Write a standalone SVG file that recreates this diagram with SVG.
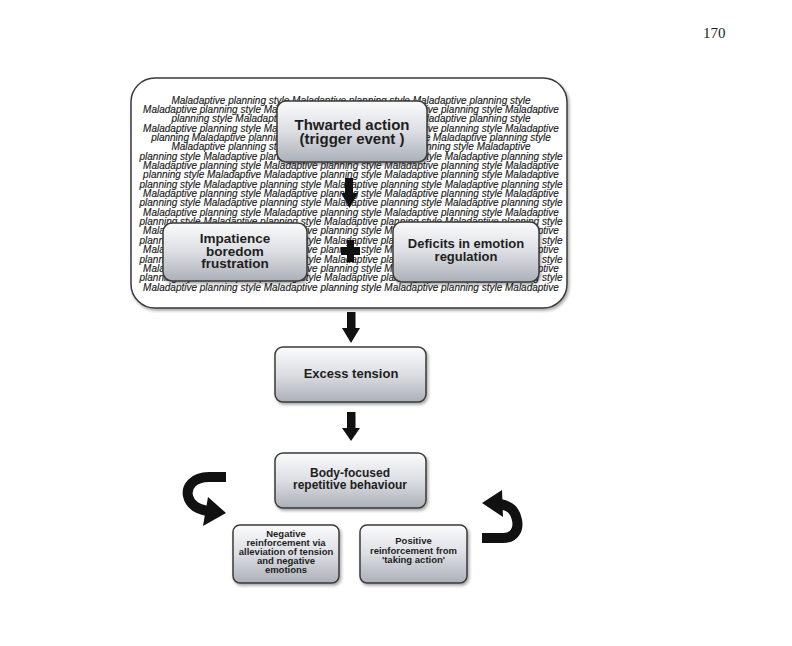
<svg xmlns="http://www.w3.org/2000/svg" width="792" height="646" viewBox="0 0 792 646">
<style>
.bg{font-family:"Liberation Sans",Arial,sans-serif;font-style:italic;font-size:10px;fill:#1c1c1c;stroke:#1c1c1c;stroke-width:0.15;text-anchor:middle}
.node{fill:url(#ng);stroke:#3a3a3a;stroke-width:1.5;filter:url(#sh)}
.lbl{font-family:"Liberation Sans",Arial,sans-serif;font-weight:bold;fill:#1e1e1e;text-anchor:middle}
.arr{fill:#111}
.curve{fill:none;stroke:#111;stroke-width:10}
</style>
<defs>
<linearGradient id="ng" x1="0" y1="0" x2="0" y2="1">
<stop offset="0" stop-color="#fbfbfc"/>
<stop offset="0.5" stop-color="#dcdee3"/>
<stop offset="1" stop-color="#abafb7"/>
</linearGradient>
<filter id="sh" x="-10%" y="-10%" width="125%" height="130%">
<feDropShadow dx="1.5" dy="2" stdDeviation="1.5" flood-color="#000" flood-opacity="0.35"/>
</filter>
</defs>
<rect width="792" height="646" fill="#ffffff"/>
<text x="703" y="38" font-family="Liberation Serif,Times New Roman,serif" font-size="15" fill="#222">170</text>

<g id="context">
<rect x="131" y="78" width="436" height="230" rx="24" fill="#ffffff" stroke="#3a3a3a" stroke-width="1.5" filter="url(#sh)"/>
<g class="bg">
<text x="351" y="103.5">Maladaptive planning style Maladaptive planning style Maladaptive planning style</text>
<text x="351" y="112.9">Maladaptive planning style Maladaptive planning style Maladaptive planning style Maladaptive</text>
<text x="351" y="122.2">planning style Maladaptive planning style Maladaptive Maladaptive planning style</text>
<text x="351" y="131.6">Maladaptive planning style Maladaptive planning style Maladaptive planning style Maladaptive</text>
<text x="351" y="140.9">planning Maladaptive planning style Maladaptive planning style Maladaptive planning style</text>
<text x="351" y="150.3">Maladaptive planning style Maladaptive planning style planning style Maladaptive</text>
<text x="351" y="159.6">planning style Maladaptive planning style Maladaptive planning style Maladaptive planning style</text>
<text x="351" y="169">Maladaptive planning style Maladaptive planning style Maladaptive planning style Maladaptive</text>
<text x="351" y="178.3">planning style Maladaptive Maladaptive planning style Maladaptive planning style Maladaptive</text>
<text x="351" y="187.7">planning style Maladaptive planning style Maladaptive planning style Maladaptive planning style</text>
<text x="351" y="197">Maladaptive planning style Maladaptive planning style Maladaptive planning style Maladaptive</text>
<text x="351" y="206.4">planning style Maladaptive planning style Maladaptive planning style Maladaptive planning style</text>
<text x="351" y="215.7">Maladaptive planning style Maladaptive planning style Maladaptive planning style Maladaptive</text>
<text x="351" y="225.1">planning style Maladaptive planning style Maladaptive planning style Maladaptive planning style</text>
<text x="351" y="234.4">Maladaptive planning style Maladaptive planning style Maladaptive planning style Maladaptive</text>
<text x="351" y="243.8">planning style Maladaptive planning style Maladaptive planning style Maladaptive planning style</text>
<text x="351" y="253.1">Maladaptive planning style Maladaptive planning style Maladaptive planning style Maladaptive</text>
<text x="351" y="262.5">planning style Maladaptive planning style Maladaptive planning style Maladaptive planning style</text>
<text x="351" y="271.8">Maladaptive planning style Maladaptive planning style Maladaptive planning style Maladaptive</text>
<text x="351" y="281.2">planning style Maladaptive planning style Maladaptive planning style Maladaptive planning style</text>
<text x="351" y="290.5">Maladaptive planning style Maladaptive planning style Maladaptive planning style Maladaptive</text>
</g>
</g>

<g id="connectors">
<path class="arr" d="M345,178 H353 V193 H358 L349.5,208 L341,193 H345 Z"/>
<rect class="arr" x="341" y="247" width="19" height="8"/>
<rect class="arr" x="347" y="240" width="7" height="22"/>
<path class="arr" d="M347,312 H355.5 V328 H360 L351,343 L342,328 H347 Z"/>
<path class="arr" d="M347,412 H355.5 V428 H360 L351,441 L342,428 H347 Z"/>
<path class="curve" d="M226,477 H209 C193,477 186,487 188,496 C190,505 197,509 207,511"/>
<polygon class="arr" points="208,497 226,513 203,526"/>
<path class="curve" d="M482,538 H503 C514,538 519,530 517,520 C515,510 510,506 500,504"/>
<polygon class="arr" points="502,490 482,503 503,517"/>
</g>

<g id="thwarted">
<rect class="node" x="277" y="101" width="150" height="61" rx="9"/>
<text class="lbl" x="352" y="130" font-size="15">Thwarted action</text>
<text class="lbl" x="352" y="144" font-size="15">(trigger event )</text>
</g>

<g id="impatience">
<rect class="node" x="163" y="223" width="144" height="58" rx="9"/>
<text class="lbl" x="235" y="243" font-size="13.5">Impatience</text>
<text class="lbl" x="235" y="255.5" font-size="13.5">boredom</text>
<text class="lbl" x="235" y="268" font-size="13.5">frustration</text>
</g>

<g id="deficits">
<rect class="node" x="393" y="222" width="146" height="60" rx="9"/>
<text class="lbl" x="466" y="248" font-size="13">Deficits in emotion</text>
<text class="lbl" x="466" y="261" font-size="13">regulation</text>
</g>

<g id="excess">
<rect class="node" x="275" y="347" width="151" height="55" rx="8"/>
<text class="lbl" x="351" y="378" font-size="13">Excess tension</text>
</g>

<g id="bfrb">
<rect class="node" x="275" y="453" width="151" height="55" rx="8"/>
<text class="lbl" x="350" y="477" font-size="12">Body-focused</text>
<text class="lbl" x="350" y="489" font-size="12">repetitive behaviour</text>
</g>

<g id="negative">
<rect class="node" x="233" y="525" width="106" height="58" rx="7"/>
<text class="lbl" x="286" y="537" font-size="9.5">Negative</text>
<text class="lbl" x="286" y="546" font-size="9.5">reinforcement via</text>
<text class="lbl" x="286" y="555" font-size="9.5">alleviation of tension</text>
<text class="lbl" x="286" y="564" font-size="9.5">and negative</text>
<text class="lbl" x="286" y="573" font-size="9.5">emotions</text>
</g>

<g id="positive">
<rect class="node" x="360" y="525" width="107" height="58" rx="7"/>
<text class="lbl" x="413.5" y="544" font-size="9.5">Positive</text>
<text class="lbl" x="413.5" y="553.5" font-size="9.5">reinforcement from</text>
<text class="lbl" x="413.5" y="563" font-size="9.5">'taking action'</text>
</g>
</svg>
